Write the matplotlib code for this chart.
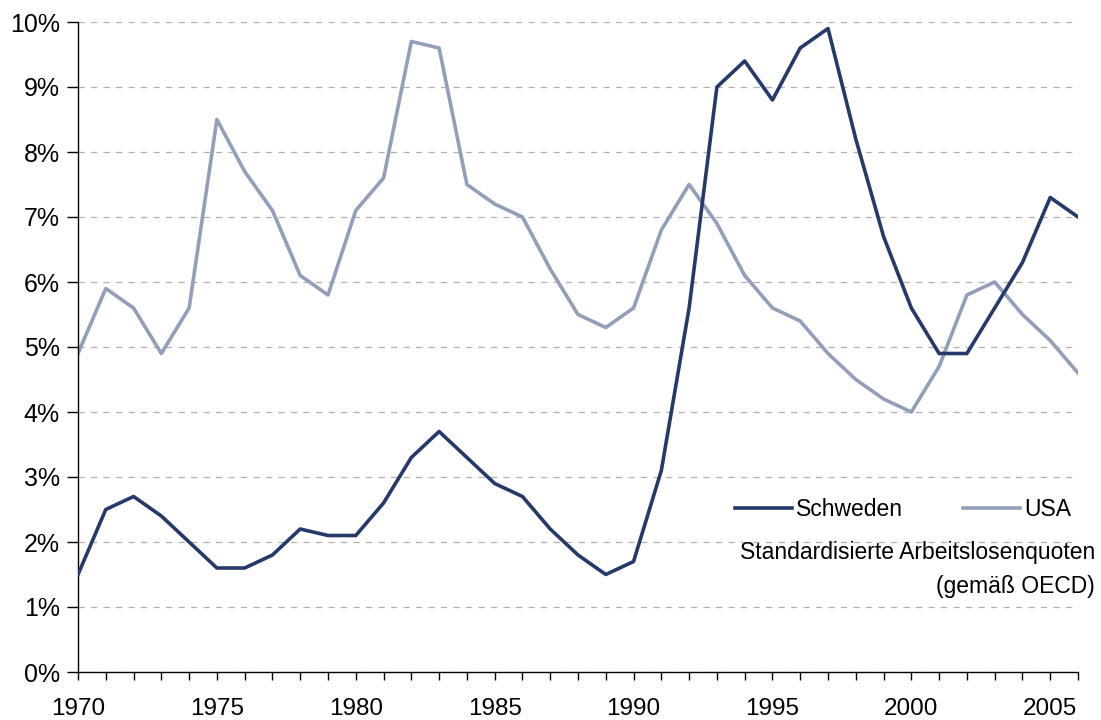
import matplotlib
matplotlib.use("Agg")
import matplotlib.pyplot as plt
from matplotlib.ticker import MultipleLocator, FuncFormatter

years = list(range(1970, 2007))
schweden = [1.5, 2.5, 2.7, 2.4, 2.0, 1.6, 1.6, 1.8, 2.2, 2.1,
            2.1, 2.6, 3.3, 3.7, 3.3, 2.9, 2.7, 2.2, 1.8, 1.5,
            1.7, 3.1, 5.6, 9.0, 9.4, 8.8, 9.6, 9.9, 8.2, 6.7,
            5.6, 4.9, 4.9, 5.6, 6.3, 7.3, 7.0]
usa = [4.9, 5.9, 5.6, 4.9, 5.6, 8.5, 7.7, 7.1, 6.1, 5.8,
       7.1, 7.6, 9.7, 9.6, 7.5, 7.2, 7.0, 6.2, 5.5, 5.3,
       5.6, 6.8, 7.5, 6.9, 6.1, 5.6, 5.4, 4.9, 4.5, 4.2,
       4.0, 4.7, 5.8, 6.0, 5.5, 5.1, 4.6]
xtick_labels = [1970, 1975, 1980, 1985, 1990, 1995, 2000, 2005]

plt.rcParams['font.family'] = ['Liberation Sans', 'DejaVu Sans']

fig = plt.figure(figsize=(11.01, 7.2), dpi=100)
ax = fig.add_axes([78/1101, 48/720, 1000/1101, 650/720])

ax.plot(years, schweden, color='#253A6A', lw=2.6, label='Schweden', zorder=3)
ax.plot(years, usa, color='#939FBA', lw=2.6, label='USA', zorder=2)

ax.set_xlim(1970, 2006)
ax.set_ylim(0, 10)
ax.yaxis.set_major_locator(MultipleLocator(1))
ax.yaxis.set_major_formatter(FuncFormatter(lambda v, p: f"{int(round(v))}%"))
ax.set_xticks(years)
ax.set_xticklabels([str(y) if y in xtick_labels else '' for y in years])
ax.tick_params(axis='x', direction='out', length=6, width=1, pad=13, labelsize=17.5)
ax.tick_params(axis='y', direction='out', length=8, width=1, pad=5, labelsize=18)
ax.grid(axis='y', color='#B0B0B0', linestyle=(0, (5, 5)), lw=0.9)
ax.set_axisbelow(True)
for s in ['top', 'right']:
    ax.spines[s].set_visible(False)
for s in ['left', 'bottom']:
    ax.spines[s].set_color('black')
    ax.spines[s].set_linewidth(1)

leg = fig.legend(loc='center', bbox_to_anchor=(903/1101, 1-510/720), ncol=2,
                 frameon=False, handlelength=2.5, handletextpad=0.17,
                 columnspacing=2.6, fontsize=16.5)
fig.text(1095/1101, 1-553/720, 'Standardisierte Arbeitslosenquoten',
         ha='right', va='center', fontsize=16.5)
fig.text(1095/1101, 1-586/720, '(gemäß OECD)', ha='right', va='center', fontsize=16.5)

fig.savefig('out.png', dpi=100)
